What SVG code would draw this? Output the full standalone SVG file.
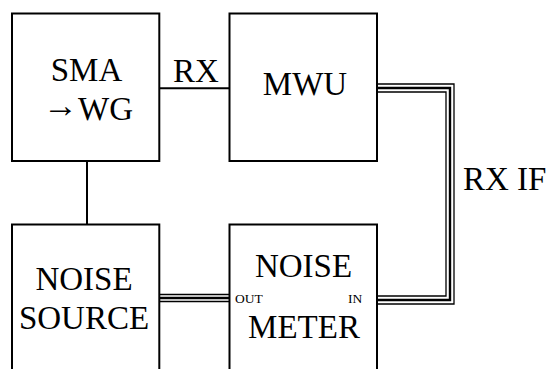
<svg xmlns="http://www.w3.org/2000/svg" width="550" height="369" viewBox="0 0 550 369">
<style>
.box{fill:#fff;stroke:#000;stroke-width:2}
.t{font-family:'Liberation Serif','Times New Roman',serif;font-size:33px;fill:#000;text-anchor:middle}
.s{font-family:'Liberation Serif','Times New Roman',serif;font-size:13.5px;fill:#000}
.ar{font-size:35px}
.w{fill:none;stroke:#000;stroke-width:2}
.c1{fill:none;stroke:#000;stroke-width:1.3}
.c2{fill:none;stroke:#000;stroke-width:2.4}
</style>
<rect width="550" height="369" fill="#fff"/>
<g id="connectors">
<line class="w" x1="159" y1="88.3" x2="229.5" y2="88.3"/>
<line class="w" x1="87" y1="161" x2="87" y2="224.5"/>
<path class="c1" d="M377 84H454V304H377"/>
<path class="c2" d="M377 88H450V300H377"/>
<path class="c1" d="M377 92H446V296H377"/>
<line class="c1" x1="159" y1="294.5" x2="229.5" y2="294.5"/>
<line class="c2" x1="159" y1="298" x2="229.5" y2="298"/>
<line class="c1" x1="159" y1="301.5" x2="229.5" y2="301.5"/>
<text class="t" x="196" y="82">RX</text>
<text class="t" x="463" y="190" style="text-anchor:start">RX IF</text>
</g>
<g id="sma-wg">
<rect class="box" x="12" y="13.5" width="147.3" height="147.5"/>
<text class="t" x="86.5" y="81">SMA</text>
<text class="t" x="88" y="120"><tspan class="ar" dy="-3">→</tspan><tspan dy="3">WG</tspan></text>
</g>
<g id="mwu">
<rect class="box" x="229.5" y="13.5" width="147.5" height="147.5"/>
<text class="t" x="305" y="95">MWU</text>
</g>
<g id="noise-source">
<rect class="box" x="12" y="224.5" width="147.3" height="160"/>
<text class="t" x="84" y="290">NOISE</text>
<text class="t" x="84" y="329">SOURCE</text>
</g>
<g id="noise-meter">
<rect class="box" x="229.5" y="224.5" width="147.5" height="160"/>
<text class="t" x="303.5" y="277">NOISE</text>
<text class="t" x="304" y="338">METER</text>
<text class="s" x="235" y="303">OUT</text>
<text class="s" x="348" y="303">IN</text>
</g>
</svg>
